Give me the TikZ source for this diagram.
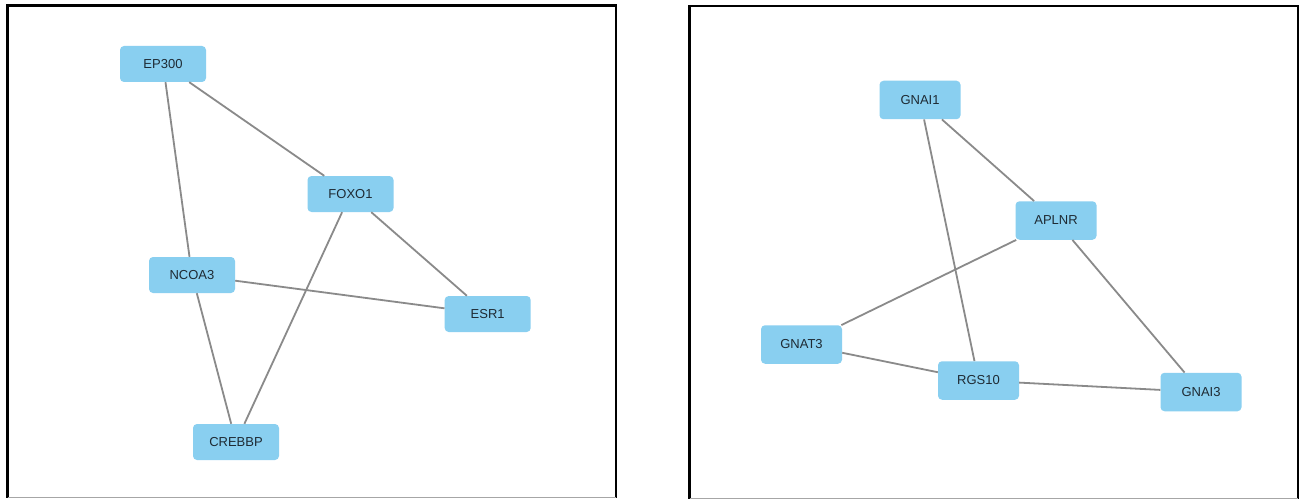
\documentclass[tikz,border=0pt]{standalone}
\usepackage{fontspec}
\setmainfont{Liberation Sans}
\definecolor{nodefill}{HTML}{89CFF0}
\definecolor{edgecol}{HTML}{8A8A8A}
\definecolor{txt}{HTML}{1E2A33}
\tikzset{
  gene/.style={draw=none, fill=nodefill, rounded corners=4pt, minimum width=86pt, minimum height=36pt, inner sep=0pt, font=\fontsize{13}{15}\selectfont, text=txt},
  gener/.style={gene, minimum width=81pt, minimum height=38.5pt},
  edge/.style={draw=edgecol, line width=1.8pt},
  frame/.style={draw=black, line width=2.6pt},
}
\begin{document}
\begin{tikzpicture}[x=1pt,y=-1pt]
\useasboundingbox (0,0) rectangle (1300,500);
\fill[white] (0,0) rectangle (1300,500);
% frames
\draw[frame] (7.5,497.5) -- (7.5,5.5) -- (616,5.5) -- (616,497.5);
\draw[gray!70, line width=1.4pt] (7.5,497.5) -- (616,497.5);
\draw[frame] (689.5,498.5) -- (689.5,6) -- (1298,6) -- (1298,498.5);
\draw[gray!70, line width=1.4pt] (689.5,498.5) -- (1298,498.5);
% left network
\node[gene] (ep300) at (163,64) {EP300};
\node[gene] (foxo1) at (350.5,194) {FOXO1};
\node[gene] (ncoa3) at (192,275) {NCOA3};
\node[gene] (esr1) at (487.7,314) {ESR1};
\node[gene] (crebbp) at (236,442) {CREBBP};
% right network
\node[gener] (gnai1) at (920,100) {GNAI1};
\node[gener] (aplnr) at (1056,220.5) {APLNR};
\node[gener] (gnat3) at (801.5,344.5) {GNAT3};
\node[gener] (rgs10) at (978.5,380.5) {RGS10};
\node[gener] (gnai3) at (1201,392) {GNAI3};
% edges
\begin{scope}[on background layer/.try]
\end{scope}
\draw[edge] (ep300) -- (foxo1);
\draw[edge] (ep300) -- (ncoa3);
\draw[edge] (ncoa3) -- (esr1);
\draw[edge] (ncoa3) -- (crebbp);
\draw[edge] (foxo1) -- (crebbp);
\draw[edge] (foxo1) -- (esr1);
\draw[edge] (gnai1) -- (aplnr);
\draw[edge] (gnai1) -- (rgs10);
\draw[edge] (aplnr) -- (gnat3);
\draw[edge] (aplnr) -- (gnai3);
\draw[edge] (gnat3) -- (rgs10);
\draw[edge] (rgs10) -- (gnai3);
\end{tikzpicture}
\end{document}
